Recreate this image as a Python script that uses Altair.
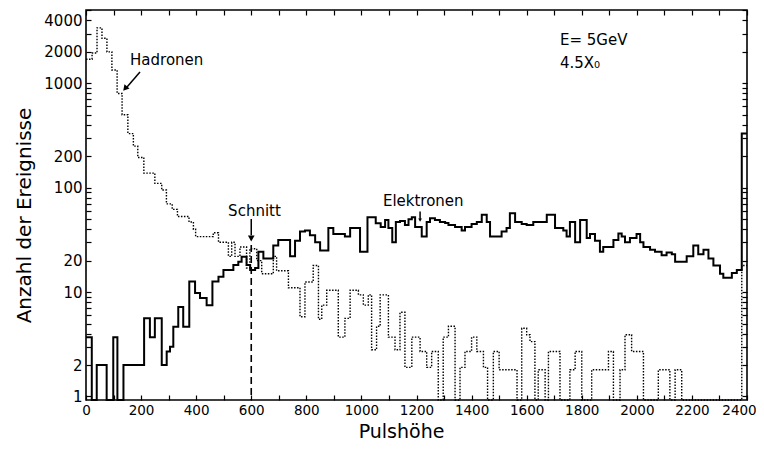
import altair as alt
import pandas as pd

# ---- data (step histogram: left bin edge -> count) ----
hadron_edges = [0, 22, 40, 58, 76, 94, 113, 131, 152, 172, 188, 210, 250, 275, 292, 313, 332, 374, 390, 398,
                462, 481, 517, 529, 541, 559, 583, 595, 620, 638, 680, 692, 735, 777, 795, 825, 844, 856, 874,
                916, 940, 959, 989, 1007, 1025, 1037, 1055, 1068, 1098, 1122, 1140, 1158, 1183, 1213, 1237,
                1255, 1279, 1297, 1316, 1340, 1358, 1376, 1400, 1419, 1443, 1458, 1479, 1500, 1565, 1582,
                1600, 1612, 1630, 1642, 1667, 1679, 1721, 1757, 1776, 1800, 1836, 1897, 1915, 1939, 1957,
                1981, 2024, 2078, 2120, 2139, 2163, 2381]
hadron_counts = [1700, 1950, 3400, 2700, 2000, 1340, 800, 500, 330, 250, 195, 138, 110, 95, 70, 62, 53, 47, 40, 34,
                 37, 30, 22, 30, 22, 27, 17, 26, 20, 15, 22, 16, 11, 5.8, 12.5, 18, 5.5, 7.5, 10.4,
                 3.7, 5.6, 10.4, 9.4, 7.5, 9.4, 2.8, 4.7, 9.4, 3.7, 2.8, 6.4, 1.9, 3.7, 2.7, 1.9,
                 2.7, 0, 3.7, 4.7, 0, 1.9, 2.7, 3.7, 2.7, 1.9, 0, 2.7, 1.8, 0, 4.5,
                 3.9, 3.35, 0, 1.8, 0, 2.7, 0, 1.8, 2.7, 0, 1.8, 2.7, 0, 1.8, 3.9,
                 2.7, 0, 1.8, 0, 1.8, 0, 18]

electron_edges = [0, 21, 39, 75, 99, 114, 136, 211, 232, 250, 275, 293, 305, 317, 335, 353, 375, 396, 414, 438,
                  459, 481, 499, 535, 553, 565, 583, 596, 614, 626, 644, 680, 698, 741, 759, 777, 795, 813, 832,
                  850, 880, 898, 940, 959, 995, 1022, 1052, 1070, 1086, 1098, 1112, 1125, 1140, 1158, 1171,
                  1183, 1195, 1219, 1237, 1249, 1267, 1285, 1304, 1316, 1340, 1364, 1376, 1400, 1419, 1437,
                  1455, 1467, 1509, 1527, 1539, 1558, 1582, 1600, 1624, 1673, 1703, 1733, 1745, 1757, 1776,
                  1794, 1818, 1830, 1848, 1866, 1878, 1915, 1933, 1945, 1957, 1975, 1999, 2012, 2024, 2048,
                  2066, 2090, 2108, 2127, 2139, 2181, 2205, 2223, 2242, 2260, 2278, 2302, 2314, 2345, 2363, 2381]
electron_counts = [3.7, 0, 2, 0, 3.7, 0, 2, 5.6, 3.7, 5.6, 2, 2.7, 3.0, 4.65, 7.2, 4.65, 12.6, 9.8, 8.8, 7.5,
                   12.6, 14, 16.3, 18.2, 19.5, 21.8, 18.2, 16.3, 17, 24.4, 21, 28, 31.5, 22, 31, 38, 39, 35, 30,
                   25, 41, 36, 34, 41, 24.4, 52, 45.6, 42, 49, 41, 30, 47, 48, 44, 50,
                   52, 42, 34, 47, 51, 49, 47, 46, 44, 42, 39, 42, 45, 47, 55,
                   47, 34, 38, 41, 57, 47, 45, 44, 47, 55, 41, 39, 34, 47, 30,
                   49, 33, 36, 31, 24.4, 27, 31.5, 36.5, 34, 30, 33, 36, 30, 27, 25.5,
                   24.4, 22.5, 24, 23, 19.5, 22, 28, 23, 25.4, 21, 18, 15, 13.7, 15.2, 16.3, 330]

x_ticks = list(range(0, 2401, 100))
y_ticks = [1, 2, 3, 4, 5, 6, 7, 8, 9, 10, 20, 30, 40, 50, 60, 70, 80, 90, 100,
           200, 300, 400, 500, 600, 700, 800, 900, 1000, 2000, 3000, 4000, 5000]
y_labelled = [1, 2, 10, 20, 100, 200, 1000, 2000, 4000]

# annotations (data coordinates)
ann_text = ["Hadronen", "Schnitt", "Elektronen", "E= 5GeV", "4.5X\u2080"]
ann_x = [160, 516, 1078, 1721, 1721]
ann_y = [1672, 60, 75, 2600, 1566]

# arrows: shaft start/end and head position, head angle
arr_x1 = [196, 600, 1213]
arr_y1 = [1283, 50, 59]
arr_x2 = [149, 600, 1213]
arr_y2 = [920, 35, 50]
head_x = [142, 600, 1213]
head_y = [890, 32.6, 49]
head_angle = [220.6, 180, 180]
head_size = [45, 45, 14]

cut_x = [600]
cut_top = [28.3]

Y_MIN, Y_MAX = 0.925, 5040
X_MAX = 2400

def step_frame(edges, counts):
    xs = list(edges) + [X_MAX]
    ys = list(counts) + [counts[-1]]
    return pd.DataFrame({"x": xs, "y": [max(v, Y_MIN) for v in ys]})

had_df = step_frame(hadron_edges, hadron_counts)
ele_df = step_frame(electron_edges, electron_counts)
ann_df = pd.DataFrame({"x": ann_x, "y": ann_y, "t": ann_text})
arr_df = pd.DataFrame({"x": arr_x1, "y": arr_y1, "x2": arr_x2, "y2": arr_y2})
head_df = pd.DataFrame({"x": head_x, "y": head_y, "a": head_angle, "s": head_size})
cut_df = pd.DataFrame({"x": cut_x, "y": cut_top, "y2": [Y_MIN]})

xs = alt.Scale(domain=[0, X_MAX], nice=False, zero=False)
ys = alt.Scale(type="log", domain=[Y_MIN, Y_MAX], nice=False, clamp=True)

FONT = "DejaVu Sans"
label_expr_y = "indexof(" + str(y_labelled) + ", datum.value) >= 0 ? '' + datum.value : ''"

ax_bottom = alt.Axis(orient="bottom", values=x_ticks, offset=-5, tickSize=5, domain=False, grid=False,
                     labelExpr="datum.value % 200 === 0 ? '' + datum.value : ''",
                     labelFlush=False, labelOverlap=False, labelBound=False, labelPadding=3,
                     labelOffset={"condition": {"test": "datum.value === 2400", "value": -8}, "value": 0},
                     labelFontSize=13.5, titleFontSize=19, titleFontWeight="normal", titlePadding=6,
                     titleX=315)
ax_left = alt.Axis(orient="left", values=y_ticks, offset=-5, tickSize=5, domain=False, grid=False,
                   labelExpr=label_expr_y, labelOverlap=False, labelFlush=False, labelPadding=4,
                   labelFontSize=15, titleFontSize=20, titleFontWeight="normal", titlePadding=9,
                   titleY=205)
ax_top = alt.Axis(orient="top", values=x_ticks, offset=-5, tickSize=5, domain=False, grid=False,
                  labels=False)
ax_right = alt.Axis(orient="right", values=y_ticks, offset=-5, tickSize=5, domain=False, grid=False,
                    labels=False)

electrons = alt.Chart(ele_df).mark_line(interpolate="step-after", color="black", strokeWidth=2).encode(
    x=alt.X("x:Q", scale=xs, axis=ax_bottom, title="Pulshöhe"),
    y=alt.Y("y:Q", scale=ys, axis=ax_left, title="Anzahl der Ereignisse"),
)
hadrons = alt.Chart(had_df).mark_line(interpolate="step-after", color="black", strokeWidth=1.4,
                                      strokeDash=[1.5, 1.5]).encode(
    x=alt.X("x:Q", scale=xs, axis=ax_top, title=""),
    y=alt.Y("y:Q", scale=ys, axis=ax_right, title=""),
)
texts = alt.Chart(ann_df).mark_text(align="left", baseline="middle", font=FONT, fontSize=15,
                                    color="black").encode(
    x=alt.X("x:Q", scale=xs, axis=None),
    y=alt.Y("y:Q", scale=ys, axis=None),
    text="t:N",
)
shafts = alt.Chart(arr_df).mark_rule(color="black", strokeWidth=1.5).encode(
    x=alt.X("x:Q", scale=xs, axis=None),
    y=alt.Y("y:Q", scale=ys, axis=None),
    x2="x2:Q",
    y2="y2:Q",
)
heads = alt.Chart(head_df).mark_point(shape="triangle-up", filled=True, color="black", opacity=1).encode(
    x=alt.X("x:Q", scale=xs, axis=None),
    y=alt.Y("y:Q", scale=ys, axis=None),
    angle=alt.Angle("a:Q", scale=None),
    size=alt.Size("s:Q", scale=None, legend=None),
)
cut = alt.Chart(cut_df).mark_rule(color="black", strokeWidth=1.6, strokeDash=[7, 4]).encode(
    x=alt.X("x:Q", scale=xs, axis=None),
    y=alt.Y("y:Q", scale=ys, axis=None),
    y2="y2:Q",
)

chart = alt.layer(electrons, hadrons, cut, shafts, heads, texts).resolve_axis(
    x="independent", y="independent"
).properties(
    width=661, height=390,
    autosize=alt.AutoSizeParams(type="none"),
    padding={"left": 78, "top": 2, "right": 9, "bottom": 48},
    background="white",
).configure_view(
    stroke="black", strokeWidth=1.6
).configure_axis(
    labelFont=FONT, titleFont=FONT, labelColor="black", titleColor="black",
    tickColor="black", tickWidth=1.2
)

chart.save("out.html", embed_options={"renderer": "svg", "actions": False})
